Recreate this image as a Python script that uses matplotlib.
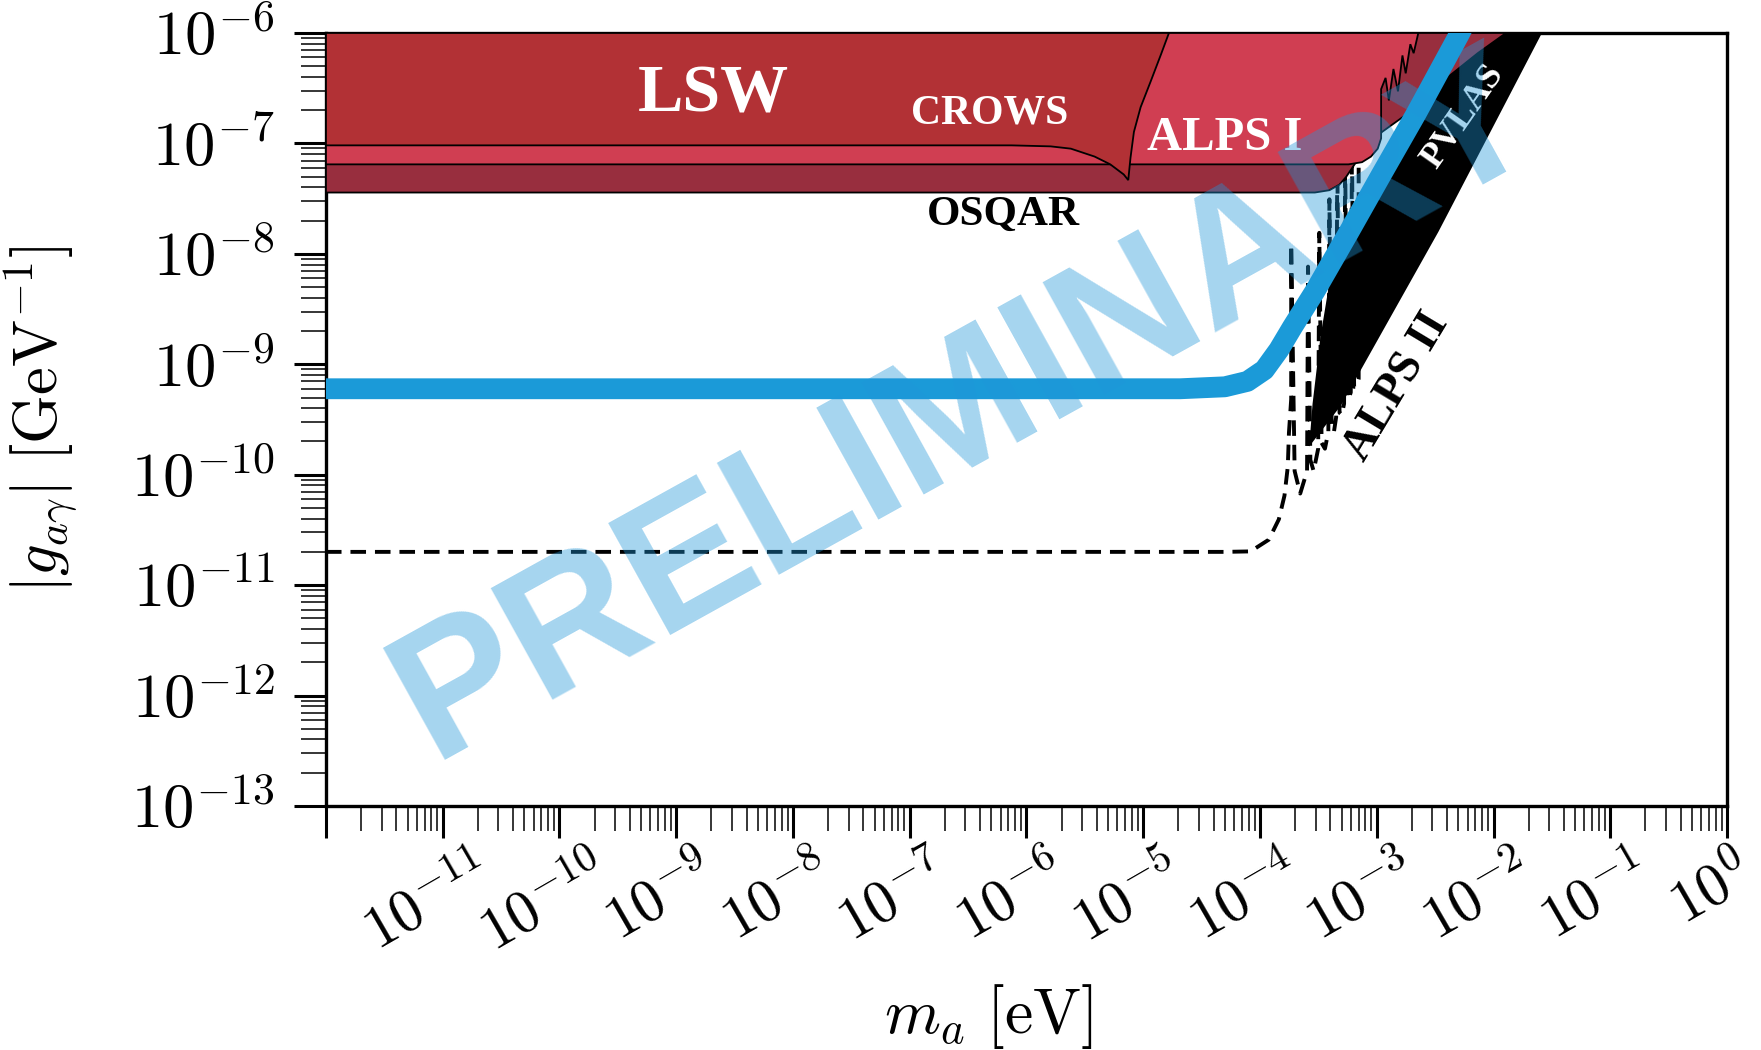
import numpy as np
import matplotlib
matplotlib.use("Agg")
import matplotlib.pyplot as plt
import matplotlib.transforms as mtransforms
from matplotlib.ticker import LogLocator, FuncFormatter, NullFormatter

plt.rcParams["mathtext.fontset"] = "cm"
plt.rcParams["font.family"] = "serif"
plt.rcParams["font.serif"] = ["Liberation Serif", "DejaVu Serif"]

M_RANGE = (1e-12, 1.0)
G_RANGE = (1e-13, 1e-6)

# excluded regions: lower boundary, left to right, ending at the top of the plot
osqar_m = [1e-12, 2.95e-4, 3.94e-4, 4.80e-4, 5.48e-4, 7.16e-4, 1.11e-3,
           1.94e-3, 3.77e-3, 7.33e-3, 1.28e-2]
osqar_g = [3.59e-8, 3.59e-8, 3.77e-8, 4.24e-8, 4.99e-8, 7.6e-8, 1.27e-7,
           1.94e-7, 3.74e-7, 6.56e-7, 1e-6]

alps1_m = [1e-12, 5.73e-4, 7.48e-4, 8.93e-4, 1.02e-3, 1.09e-3, 1.09e-3,
           1.19e-3, 1.27e-3, 1.39e-3, 1.52e-3, 1.66e-3, 1.77e-3, 1.94e-3,
           2.07e-3, 2.27e-3]
alps1_g = [6.46e-8, 6.46e-8, 6.76e-8, 7.6e-8, 8.96e-8, 1.11e-7, 3.1e-7,
           3.92e-7, 2.45e-7, 4.72e-7, 2.96e-7, 6.26e-7, 4.31e-7, 7.91e-7,
           6.56e-7, 1e-6]

crows_m = [1e-12, 7.43e-7, 1.61e-6, 2.40e-6, 3.83e-6, 5.22e-6, 6.81e-6,
           7.44e-6, 7.78e-6, 8.32e-6, 9.50e-6, 1.16e-5, 1.42e-5, 1.66e-5]
crows_g = [9.6e-8, 9.6e-8, 9.4e-8, 8.96e-8, 7.6e-8, 6.46e-8, 5.23e-8,
           4.65e-8, 7.43e-8, 1.27e-7, 2.13e-7, 3.66e-7, 6.41e-7, 1e-6]

# ALPS II projected reach (dense resonance region as a solid band)
band_m = [2.64e-4, 4.91e-4, 3.37e-3, 2.60e-2, 5.26e-3, 2.17e-3, 1.11e-3,
          5.73e-4, 4.11e-4, 3.30e-4, 2.82e-4]
band_g = [1.80e-10, 4.2e-10, 1.58e-8, 1e-6, 1e-6, 1.85e-7, 5.35e-8,
          1.55e-8, 7.31e-9, 1.79e-9, 4.39e-10]

alps2_m = [1e-12, 5.0e-5, 8.3e-5, 1.19e-4, 1.45e-4, 1.62e-4, 1.73e-4,
           1.77e-4, 1.85e-4, 1.85e-4, 1.98e-4, 2.21e-4, 2.53e-4, 2.58e-4,
           2.70e-4, 2.88e-4, 3.15e-4, 3.22e-4, 3.37e-4, 3.60e-4, 3.85e-4,
           3.93e-4, 4.11e-4, 4.30e-4, 4.49e-4, 4.59e-4, 4.80e-4, 5.02e-4,
           5.25e-4, 5.36e-4, 5.61e-4, 5.73e-4, 5.99e-4, 6.13e-4, 6.40e-4,
           6.69e-4, 7.00e-4, 7.00e-4]
alps2_g = [2e-11, 2e-11, 2.02e-11, 2.58e-11, 3.94e-11, 6.45e-11, 1.18e-10,
           2.4e-10, 4.83e-10, 1.22e-8, 1.08e-10, 6.75e-11, 1.08e-10, 7.66e-9,
           1.36e-10, 1.08e-10, 1.72e-10, 1.55e-8, 1.94e-10, 1.72e-10, 2.45e-10,
           3.12e-8, 2.75e-10, 2.45e-10, 3.32e-10, 7.43e-8, 3.64e-10, 3.48e-10,
           4.39e-10, 6.92e-8, 4.94e-10, 4.83e-10, 5.56e-10, 8.55e-8, 6.25e-10,
           6.25e-10, 7.36e-10, 8.55e-8]

# new sensitivity curve
proj_m = [1e-12, 2.07e-5, 5.0e-5, 7.8e-5, 1.09e-4, 1.45e-4, 1.89e-4, 2.95e-4,
          5.73e-4, 1.11e-3, 2.17e-3, 5.03e-3, 5.4e-3]
proj_g = [6.0e-10, 6.0e-10, 6.25e-10, 7.0e-10, 8.9e-10, 1.35e-9, 2.16e-9,
          4.57e-9, 1.55e-8, 5.35e-8, 1.85e-7, 9.5e-7, 1.1e-6]

fig = plt.figure(figsize=(17.61, 10.5), dpi=100)
ax = fig.add_axes([0.1851, 0.2324, 0.7956, 0.7362])
ax.set_xscale("log")
ax.set_yscale("log")
ax.set_xlim(M_RANGE)
ax.set_ylim(G_RANGE)


def limit_region(m, g, color, z):
    xs = np.append(m, M_RANGE[0])
    ys = np.append(g, G_RANGE[1])
    ax.fill(xs, ys, facecolor=color, edgecolor="k", lw=1.3, zorder=z)


ax.fill(band_m, band_g, color="k", lw=0, zorder=2)
ax.plot(alps2_m, alps2_g, color="k", lw=2.8, ls=(0, (4.0, 2.3)), zorder=2.5)

limit_region(osqar_m, osqar_g, "#982e3e", 3.0)
limit_region(alps1_m, alps1_g, "#d03e52", 3.1)
limit_region(crows_m, crows_g, "#b23135", 3.2)

ax.plot(proj_m, proj_g, color="#1b9ad8", lw=15, solid_capstyle="butt",
        solid_joinstyle="round", zorder=6)

lab = dict(fontweight="bold", ha="center", va="center", zorder=7)
ax.text(2.1e-9, 2.75e-7, "LSW", color="w", fontsize=49, **lab)
ax.text(4.8e-7, 1.85e-7, "CROWS", color="w", fontsize=30, **lab)
ax.text(5.0e-5, 1.13e-7, "ALPS I", color="w", fontsize=35, **lab)
ax.text(6.4e-7, 2.25e-8, "OSQAR", color="k", fontsize=31, **lab)
ax.text(1.49e-3, 6.25e-10, "ALPS II", color="k", fontsize=33, rotation=59,
        rotation_mode="anchor", **lab)
ax.text(5.5e-3, 1.73e-7, "PVLAS", color="w", fontsize=26, rotation=55,
        rotation_mode="anchor", **lab)


def pow10(v, pos):
    e = int(round(np.log10(v)))
    return r"$10^{%d}$" % e


def pow10_x(v, pos):
    e = int(round(np.log10(v)))
    if e <= -12:
        return ""
    return r"$10^{%d}$" % e


ax.xaxis.set_major_locator(LogLocator(base=10, numticks=20))
ax.yaxis.set_major_locator(LogLocator(base=10, numticks=20))
ax.xaxis.set_minor_locator(LogLocator(base=10, subs=np.arange(2, 10), numticks=200))
ax.yaxis.set_minor_locator(LogLocator(base=10, subs=np.arange(2, 10), numticks=200))
ax.xaxis.set_major_formatter(FuncFormatter(pow10_x))
ax.yaxis.set_major_formatter(FuncFormatter(pow10))
ax.xaxis.set_minor_formatter(NullFormatter())
ax.yaxis.set_minor_formatter(NullFormatter())

ax.tick_params(which="major", direction="out", length=23, width=2.2)
ax.tick_params(which="minor", direction="out", length=18, width=1.1)
ax.tick_params(axis="y", which="major", labelsize=45, pad=14)
ax.tick_params(axis="x", which="major", labelsize=43, pad=6, labelrotation=30)
for s in ax.spines.values():
    s.set_linewidth(2.4)

# nudge the slanted x labels a little to the left of their ticks
shift = mtransforms.ScaledTranslation(-14 / 100, 0, fig.dpi_scale_trans)
for t in ax.xaxis.get_majorticklabels():
    t.set_transform(t.get_transform() + shift)

ax.set_xlabel(r"$m_a\ [\mathrm{eV}]$", fontsize=46)
ax.set_ylabel(r"$|g_{a\gamma}|\ [\mathrm{GeV}^{-1}]$", fontsize=45)
ax.xaxis.set_label_coords(0.4725, -0.228)
ax.yaxis.set_label_coords(-0.176, 0.5)

fig.text(0.549, 0.611, "PRELIMINARY", fontsize=134, fontweight="bold",
         family="Liberation Sans", color=(0.12, 0.59, 0.85), alpha=0.4,
         rotation=29, ha="center", va="center", rotation_mode="anchor",
         zorder=10)

fig.savefig("out.png", dpi=100)
